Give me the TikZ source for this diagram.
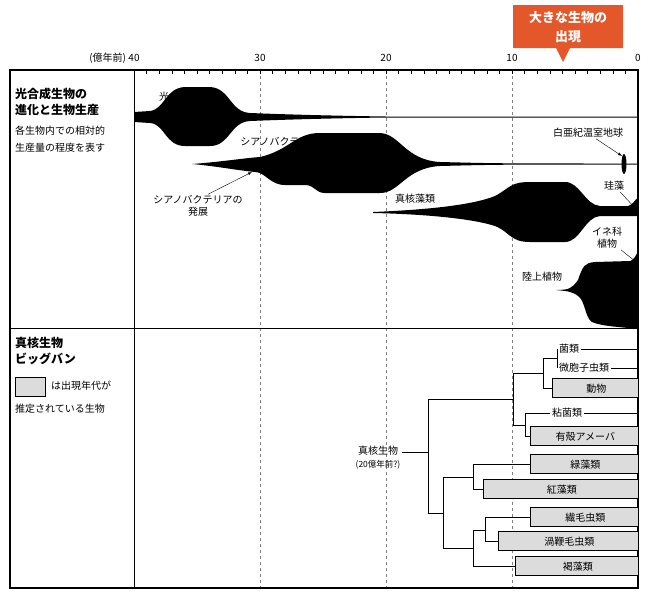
\documentclass[tikz,border=0pt]{standalone}
\usepackage{fontspec}
\setmainfont{Noto Sans CJK JP}
\usetikzlibrary{positioning}
\definecolor{callout}{HTML}{E4572A}
\definecolor{leafgray}{HTML}{DCDCDC}
\tikzset{
  lbl/.style={inner sep=1pt,font=\fontsize{10}{12}\selectfont},
  ttl/.style={inner sep=0pt,align=left,anchor=north west,font=\fontsize{12}{16}\bfseries\selectfont},
  leafbox/.style={draw,fill=leafgray,inner sep=0pt,minimum height=19pt,anchor=west,font=\fontsize{10}{12}\selectfont,text depth=0pt,align=left},
  leaf/.style={inner sep=2pt,anchor=west,font=\fontsize{10}{12}\selectfont},
  branch/.style={line width=0.5pt},
  grid/.style={gray,dashed,line width=0.5pt},
}
\begin{document}
\begin{tikzpicture}[x=1pt,y=-1pt,>=latex]
\useasboundingbox (0,0) rectangle (650,603);
% axis and frame
\foreach \t in {10,20,30}{
  \draw[grid] ({638-12.6*\t},70)--({638-12.6*\t},588);
}
\foreach \t in {1,...,39}{
  \draw[line width=0.4pt] ({638-12.6*\t},70)--({638-12.6*\t},73.5);
}
\foreach \t in {0,10,20,30,40}{
  \node[lbl] (ax\t) at ({638-12.6*\t},58) {\t};
}
\node[lbl,left=0pt of ax40] (unit) {(億年前)};
\draw[line width=1.4pt] (10,70) rectangle (638,588);
\draw[line width=0.6pt] (134,70)--(134,588);
\draw[line width=0.6pt] (10,328)--(638,328);
% callout
\fill[callout] (513,5)--(623,5)--(623,48)--(570,48)--(563,62)--(556,48)--(513,48)--cycle;
\node[white,align=center,inner sep=0pt,font=\fontsize{13}{19}\bfseries\selectfont] (big) at (568,27) {大きな生物の\\出現};
% left titles
\node[ttl] (t1) at (15,88) {光合成生物の\\進化と生物生産};
\node[lbl,anchor=north west,align=left,inner sep=0pt,font=\fontsize{10}{17}\selectfont] (t2) at (15,126) {各生物内での相対的\\生産量の程度を表す};
\node[ttl] (t3) at (15,337) {真核生物\\ビッグバン};
\draw[fill=leafgray] (15,377) rectangle (45,396);
\node[lbl,anchor=west] (t4) at (50,386) {は出現年代が};
\node[lbl,anchor=west] (t5) at (14,409) {推定されている生物};
% production blobs
\fill (134,112)--(150,111) .. controls (165,109) and (165,88) .. (185,87) -- (210,87)
  .. controls (230,88) and (230,112) .. (250,113) .. controls (300,115) and (350,116) .. (386,116.5)
  -- (638,116.5) -- (638,117.5) -- (386,117.5) .. controls (350,118) and (300,119) .. (250,121)
  .. controls (230,122) and (230,146) .. (210,146) -- (185,146) .. controls (165,146) and (165,124) .. (150,123)
  -- (134,122) -- cycle;
\fill (192,164) .. controls (220,162) and (245,158) .. (260,157) .. controls (290,150) and (295,133) .. (320,133)
  -- (380,133) .. controls (400,134) and (405,160) .. (440,162) .. controls (500,163.5) .. (638,163.5)
  -- (638,164.5) .. controls (500,164.5) .. (440,166) .. controls (405,168) and (400,193) .. (380,193)
  -- (325,193) .. controls (315,193) and (315,185) .. (305,185) -- (285,185)
  .. controls (270,185) and (265,172) .. (255,172) .. controls (235,170) and (215,166) .. (192,164) -- cycle;
\fill (624,164) ellipse (2.5 and 10);
\fill (373,212) .. controls (420,210) and (470,206) .. (495,196) .. controls (510,188) and (510,182) .. (530,182)
  -- (565,182) .. controls (580,182) and (585,205) .. (600,206) -- (628,206)
  .. controls (633,205) and (635,199) .. (638,198) -- (638,216) -- (600,216)
  .. controls (585,217) and (580,242) .. (565,242) -- (530,242) .. controls (510,242) and (510,232) .. (495,226)
  .. controls (470,218) and (420,214) .. (373,213) -- cycle;
\fill (556,290) .. controls (570,290) and (572,288) .. (578,280) .. controls (583,265) and (585,263) .. (595,262)
  -- (630,261) .. controls (634,261) and (636,254) .. (638,252) -- (638,329)
  .. controls (620,327) and (600,326) .. (592,322) .. controls (585,318) and (585,300) .. (578,296)
  .. controls (572,291) and (565,291) .. (556,290) -- cycle;
% blob labels
\node[lbl] (bact) at (184,97) {光合成細菌};
\node[lbl] (cyano) at (280,142) {シアノバクテリア};
\node[lbl,align=center] (cydev) at (198,206) {シアノバクテリアの\\発展};
\node[lbl] (euk) at (415,199) {真核藻類};
\node[lbl] (green) at (588,133) {白亜紀温室地球};
\node[lbl] (diat) at (614,186) {珪藻};
\node[lbl,align=center] (grass) at (607,238) {イネ科\\植物};
\node[lbl] (land) at (542,277) {陸上植物};
\coordinate (cydevtip) at (252,172);
\coordinate (greentip) at (622,156);
\coordinate (diattip) at (636,209);
\coordinate (grasstip) at (636,262);
\draw[->] ([xshift=10pt]cydev.north) -- (cydevtip);
\draw[->] ([xshift=8pt]green.south) -- (greentip);
\draw[->] ([xshift=6pt]diat.south) -- (diattip);
\draw[->] ([xshift=14pt]grass.south) -- (grasstip);
% eukaryote tree
\node[leaf] (fungi) at (557,349) {菌類};
\node[leaf] (micro) at (557,368) {微胞子虫類};
\node[leafbox,minimum width=86pt] (anim) at (552,388) {\ 動物};
\node[leaf] (slime) at (550,413) {粘菌類};
\node[leafbox,minimum width=108pt] (amoe) at (530,436) {\ 有殻アメーバ};
\node[leafbox,minimum width=108pt] (grn) at (530,464) {\ 緑藻類};
\node[leafbox,minimum width=155pt] (red) at (483,489) {\ 紅藻類};
\node[leafbox,minimum width=108pt] (cil) at (530,517) {\ 繊毛虫類};
\node[leafbox,minimum width=140pt] (dino) at (498,541) {\ 渦鞭毛虫類};
\node[leafbox,minimum width=123pt] (brown) at (515,566) {\ 褐藻類};
\node[lbl,align=center,font=\fontsize{10}{13}\selectfont] (root) at (378,458) {真核生物\\{\fontsize{8.5}{11}\selectfont (20億年前?)}};
\draw[branch] (fungi.east)--(638,349);
\draw[branch] (micro.east)--(638,368);
\draw[branch] (slime.east)--(638,413);
\draw[branch] (525,413)--(slime.west);
\draw[branch] (fungi.west)-|(557,368)--(micro.west);
\draw[branch] (543,358)|-(anim.west);
\draw[branch] (557,358)--(543,358);
\draw[branch] (513,373)--(543,373);
\draw[branch] (525,413)|-(amoe.west);
\draw[branch] (513,373)|-(525,425);
\draw[branch] (428,399)-|(513,373);
\draw[branch] (root.east|-0,452)--(428,452);
\draw[branch] (428,399)|-(443,513);
\draw[branch] (443,477)|-(443,548);
\draw[branch] (443,477)--(473,477);
\draw[branch] (473,477)|-(grn.west);
\draw[branch] (473,477)|-(red.west);
\draw[branch] (443,548)--(473,548);
\draw[branch] (473,548)|-(brown.west);
\draw[branch] (473,530)--(485,530);
\draw[branch] (473,530)--(473,548);
\draw[branch] (485,530)|-(cil.west);
\draw[branch] (485,530)|-(dino.west);
\end{tikzpicture}
\end{document}
